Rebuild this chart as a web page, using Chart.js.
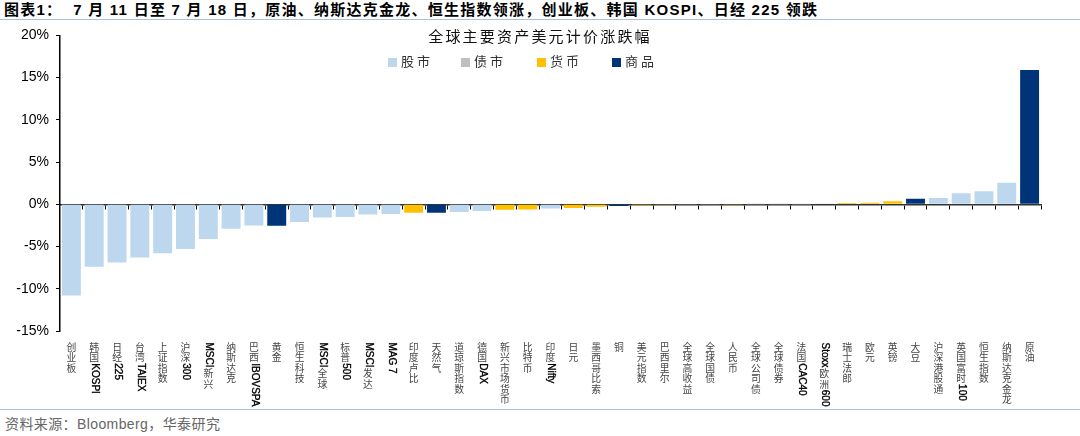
<!DOCTYPE html>
<html><head><meta charset="utf-8">
<script src="https://cdn.jsdelivr.net/npm/chart.js@4"></script>
<style>
html,body{margin:0;padding:0;background:#fff;width:1080px;height:436px;overflow:hidden;position:relative;font-family:"Liberation Sans",Arial,"Noto Sans CJK SC",sans-serif;}
#hdr{position:absolute;left:4px;top:0;height:19px;line-height:20px;font-size:15px;letter-spacing:1.25px;font-weight:bold;color:#000;white-space:nowrap;font-family:"Liberation Sans","Noto Sans CJK SC",sans-serif;}
#hline{position:absolute;left:0;top:19px;width:1080px;height:1px;background:#a9c0dc;}
#wrap{position:absolute;left:0;top:20px;width:1080px;height:388px;}
#ttl{position:absolute;left:0;width:1080px;top:25px;text-align:center;font-size:15px;letter-spacing:2.2px;color:#111;font-family:"Noto Sans CJK SC",sans-serif;}
#lgd{position:absolute;top:52px;left:0;width:1080px;height:18px;font-size:13px;color:#333;font-family:"Noto Sans CJK SC",sans-serif;}
.li{position:absolute;top:0;line-height:18px;letter-spacing:3px;white-space:nowrap;}
.li i{display:inline-block;width:9px;height:9px;margin-right:4px;vertical-align:-1px;}
#fline{position:absolute;left:0;top:409px;width:1080px;height:1px;background:#a9c0dc;}
#ftr{position:absolute;left:5px;top:413px;font-size:14px;letter-spacing:0.4px;color:#666;white-space:nowrap;font-family:"Liberation Sans","Noto Sans CJK SC",sans-serif;}
</style></head>
<body>
<div id="hdr">图表1：&nbsp; 7 月 11 日至 7 月 18 日，原油、纳斯达克金龙、恒生指数领涨，创业板、韩国 KOSPI、日经 225 领跌</div>
<div id="hline"></div>
<div id="wrap"><canvas id="c" width="1080" height="388"></canvas></div>
<div id="ttl">全球主要资产美元计价涨跌幅</div>
<div id="lgd"></div>
<div id="fline"></div>
<div id="ftr">资料来源：Bloomberg，华泰研究</div>
<script>
const categories = ["创业板","韩国KOSPI","日经225","台湾TAIEX","上证指数","沪深300","MSCI新兴","纳斯达克","巴西IBOVSPA","黄金","恒生科技","MSCI全球","标普500","MSCI发达","MAG 7","印度卢比","天然气","道琼斯指数","德国DAX","新兴市场货币","比特币","印度Nifty","日元","墨西哥比索","铜","美元指数","巴西里尔","全球高收益","全球国债","人民币","全球公司债","全球债券","法国CAC40","Stoxx欧洲600","瑞士法郎","欧元","英镑","大豆","沪深港股通","英国富时100","恒生指数","纳斯达克金龙","原油"];
const values = [-10.8,-7.4,-6.9,-6.3,-5.8,-5.3,-4.1,-2.9,-2.5,-2.55,-2.1,-1.55,-1.5,-1.2,-1.15,-1.0,-1.0,-0.9,-0.8,-0.65,-0.6,-0.5,-0.45,-0.3,-0.2,-0.1,-0.03,-0.02,-0.02,-0.01,0.01,0.01,0.02,0.03,0.15,0.18,0.35,0.65,0.75,1.3,1.55,2.55,15.9];
// 0 股市, 1 债市, 2 货币, 3 商品
const assetTypes = [0,0,0,0,0,0,0,0,0,3,0,0,0,0,0,2,3,0,0,2,2,0,2,2,3,2,2,1,1,2,1,1,0,0,2,2,2,3,0,0,0,0,3];
const typeNames = ["股市","债市","货币","商品"];
const typeColors = ["#bdd7ee","#bfbfbf","#ffc000","#003478"];
const yTicks = [-15,-10,-5,0,5,10,15,20];

// HTML legend
const lg = document.getElementById('lgd');
const lgX = [388,461,537,612];
typeNames.forEach((n,i)=>{
  const d=document.createElement('div');d.className='li';d.style.left=lgX[i]+'px';
  d.innerHTML='<i style="background:'+typeColors[i]+'"></i>'+n;lg.appendChild(d);
});

function tokenize(s){
  const out=[];let cur='';
  for(const ch of s){
    if(/[\u3000-\u9fff\uff00-\uffef]/.test(ch)){ if(cur){out.push({t:cur,lat:true});cur='';} out.push({t:ch,lat:false}); }
    else cur+=ch;
  }
  if(cur) out.push({t:cur,lat:true});
  return out;
}

const vertLabels = {
  id:'vertLabels',
  afterDraw(chart){
    const ctx=chart.ctx, xs=chart.scales.x, top=chart.chartArea.bottom+11;
    const pitch=10.4;
    categories.forEach((lab,i)=>{
      const x=xs.getPixelForValue(i);
      let y=top;
      tokenize(lab).forEach(tok=>{
        ctx.save();
        if(tok.lat){
          ctx.font='10px "Liberation Sans", Arial, sans-serif';
          ctx.fillStyle='#000';
          const t=tok.t.trim();
          const w=ctx.measureText(t).width;
          ctx.translate(x+0.5,y+0.5);ctx.rotate(Math.PI/2);
          ctx.textAlign='left';ctx.textBaseline='middle';
          ctx.fillText(t,0,0);
          ctx.lineWidth=0.35;ctx.strokeStyle='#000';ctx.strokeText(t,0,0);
          y+=w+1.5;
        }else{
          ctx.font='9.8px "Noto Sans CJK SC", sans-serif';
          ctx.fillStyle='#444';
          ctx.textAlign='center';ctx.textBaseline='middle';
          ctx.fillText(tok.t,x,y+pitch/2);
          y+=pitch;
        }
        ctx.restore();
      });
    });
  }
};

new Chart(document.getElementById('c'),{
  type:'bar',
  data:{labels:categories,datasets:[{data:values,backgroundColor:assetTypes.map(t=>typeColors[t]),borderWidth:0,categoryPercentage:1,barPercentage:0.83}]},
  options:{
    responsive:false,animation:false,
    layout:{padding:{left:0,right:39,top:14,bottom:77}},
    plugins:{legend:{display:false},title:{display:false},tooltip:{enabled:false}},
    scales:{
      x:{type:'category',position:{y:0},offset:true,
        grid:{display:true,offset:true,drawOnChartArea:false,drawTicks:true,tickLength:4,color:'#000',lineWidth:1},
        border:{display:true,color:'#333',width:1.5},
        ticks:{display:false}},
      y:{min:-15,max:20,
        afterBuildTicks(s){s.ticks=yTicks.map(v=>({value:v}));},
        afterFit(s){s.width=60;},
        grid:{drawOnChartArea:false,drawTicks:true,tickLength:4,color:'#000'},
        border:{display:true,color:'#000',width:1.5},
        ticks:{padding:7,color:'#000',font:{size:14,family:'"Liberation Sans", Arial, sans-serif'},callback:v=>v+'%'}}
    }
  },
  plugins:[vertLabels]
});
</script>
</body></html>
